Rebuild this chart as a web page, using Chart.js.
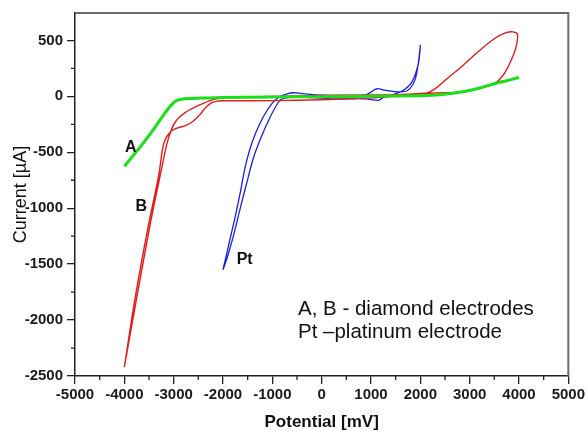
<!DOCTYPE html>
<html>
<head>
<meta charset="utf-8">
<title>Cyclic voltammograms - diamond and platinum electrodes</title>
<script src="https://cdn.jsdelivr.net/npm/chart.js"></script>
<style>
  html, body { margin: 0; padding: 0; background: #fff; }
</style>
</head>
<body>
<canvas id="cv" width="587" height="431"></canvas>
<script>
// curve A - diamond electrode (green)
const aPotential = [-4000, -3850, -3700, -3550, -3400, -3250, -3120, -3020, -2940, -2850, -2700, -2400, -2000, -1000, 0, 1000, 2000, 2400, 2830, 3200, 3500, 3750, 4000];
const aCurrent   = [-625, -545, -465, -380, -290, -195, -115, -65, -38, -26, -20, -15, -10, -6, -3, 0, 6, 14, 38, 75, 113, 140, 168];

// curve B - diamond electrode (red), one full cycle
const bPotential = [-4000, -3740, -3470, -3260, -3140, -3040, -2960, -2880, -2780, -2680, -2550, -2400, -2220, -2000, -1500, -1000, 0, 1000, 1500, 2000, 2160, 2350, 2600, 2830, 3165, 3500, 3740, 3880, 3970, 3940, 3840, 3700, 3500, 3165, 2830, 2500, 2160, 2000, 1500, 1000, 0, -1000, -2000, -2100, -2220, -2350, -2470, -2600, -2760, -2900, -3050, -3200, -3300, -3510, -3780, -4000];
const bCurrent   = [-2420, -1780, -1130, -680, -430, -290, -225, -185, -150, -122, -92, -62, -32, -14, -5, 0, 8, 12, 15, 25, 34, 85, 180, 262, 396, 515, 569, 576, 555, 440, 321, 202, 113, 68, 40, 32, 28, 22, 2, -14, -30, -38, -40, -42, -55, -100, -165, -220, -262, -280, -310, -420, -700, -1150, -1800, -2420];

// Pt - platinum electrode (blue), one full cycle
const ptPotential = [-2000, -1880, -1760, -1650, -1560, -1460, -1340, -1180, -1000, -870, -700, -580, -400, 0, 500, 880, 1000, 1120, 1280, 1550, 1750, 1890, 1960, 2000, 1960, 1830, 1640, 1400, 1260, 1150, 900, 200, -460, -780, -880, -1060, -1240, -1390, -1510, -1650, -1790, -1900, -2000];
const ptCurrent   = [-1550, -1320, -1090, -860, -650, -480, -330, -180, -60, -10, 22, 32, 25, 10, 8, 10, 38, 68, 55, 40, 55, 145, 300, 455, 290, 130, 50, 10, -8, -36, -22, -22, -6, -18, -55, -200, -380, -560, -760, -1000, -1250, -1420, -1550];

// axes
const xTicks = [-5000, -4000, -3000, -2000, -1000, 0, 1000, 2000, 3000, 4000, 5000];
const yTicks = [-2500, -2000, -1500, -1000, -500, 0, 500];

// text labels on the plot
const curveLabels = [
  { text: 'A',  x: -3870, y: -455 },
  { text: 'B',  x: -3655, y: -988 },
  { text: 'Pt', x: -1560, y: -1458 }
];
const noteLines = ['A, B - diamond electrodes', 'Pt \u2013platinum electrode'];

function pts(xs, ys) {
  return xs.map((x, i) => ({ x: x, y: ys[i] }));
}

const fontFamily = '"Liberation Sans", Arial, sans-serif';

// minor ticks, frame, and text annotations
const decorations = {
  id: 'decorations',
  afterDraw(chart) {
    const ctx = chart.ctx;
    const xs = chart.scales.x, ys = chart.scales.y;
    const area = chart.chartArea;
    ctx.save();

    // top and right frame
    ctx.strokeStyle = '#6e6e6e';
    ctx.lineWidth = 2;
    ctx.beginPath();
    ctx.moveTo(area.left, area.top);
    ctx.lineTo(area.right, area.top);
    ctx.lineTo(area.right, area.bottom);
    ctx.stroke();

    // minor ticks
    ctx.strokeStyle = '#222';
    ctx.lineWidth = 1.3;
    ctx.beginPath();
    for (let i = 0; i < xTicks.length - 1; i++) {
      const px = xs.getPixelForValue((xTicks[i] + xTicks[i + 1]) / 2);
      ctx.moveTo(px, area.bottom);
      ctx.lineTo(px, area.bottom + 4);
    }
    for (let i = 0; i < yTicks.length; i++) {
      const v = yTicks[i] + 250;
      if (v > ys.max) continue;
      const py = ys.getPixelForValue(v);
      ctx.moveTo(area.left, py);
      ctx.lineTo(area.left - 4, py);
    }
    ctx.stroke();

    // curve labels
    ctx.fillStyle = '#111';
    ctx.font = 'bold 16px ' + fontFamily;
    ctx.textAlign = 'center';
    ctx.textBaseline = 'middle';
    curveLabels.forEach(l => {
      ctx.fillText(l.text, xs.getPixelForValue(l.x), ys.getPixelForValue(l.y));
    });

    // note
    ctx.font = '20.5px ' + fontFamily;
    ctx.textAlign = 'left';
    ctx.textBaseline = 'alphabetic';
    ctx.fillText(noteLines[0], 298, 315);
    ctx.fillText(noteLines[1], 298, 338);

    ctx.restore();
  }
};

const tickFont = { family: fontFamily, size: 15, weight: 'bold' };

new Chart(document.getElementById('cv'), {
  type: 'scatter',
  data: {
    datasets: [
      { label: 'A', data: pts(aPotential, aCurrent), borderColor: '#19e019', borderWidth: 3, showLine: true, pointRadius: 0, tension: 0.3 },
      { label: 'B', data: pts(bPotential, bCurrent), borderColor: '#e61c1c', borderWidth: 1.4, showLine: true, pointRadius: 0, tension: 0.3 },
      { label: 'Pt', data: pts(ptPotential, ptCurrent), borderColor: '#1c1ce6', borderWidth: 1.3, showLine: true, pointRadius: 0, tension: 0.3 }
    ]
  },
  options: {
    responsive: false,
    animation: false,
    devicePixelRatio: 1,
    layout: { padding: { left: 0, top: 13, right: 16, bottom: 0 } },
    plugins: { legend: { display: false }, tooltip: { enabled: false } },
    scales: {
      x: {
        type: 'linear',
        min: -5000, max: 5000,
        afterFit(scale) { scale.height = 55; },
        afterBuildTicks(scale) { scale.ticks = xTicks.map(v => ({ value: v })); },
        grid: { drawOnChartArea: false, drawTicks: true, tickLength: 8, color: '#222', lineWidth: 1.3 },
        border: { display: true, color: '#222', width: 1.5 },
        ticks: { maxRotation: 0, padding: 2, color: '#1a1a1a', font: tickFont, callback: v => String(v) },
        title: { display: true, text: 'Potential [mV]', color: '#111', padding: { top: 0, bottom: 0 }, font: { family: fontFamily, size: 17, weight: 'bold', lineHeight: 1 } }
      },
      y: {
        type: 'linear',
        min: -2500, max: 745,
        afterFit(scale) { scale.width = 75; },
        afterBuildTicks(scale) { scale.ticks = yTicks.map(v => ({ value: v })); },
        grid: { drawOnChartArea: false, drawTicks: true, tickLength: 8, color: '#222', lineWidth: 1.3 },
        border: { display: true, color: '#222', width: 1.5 },
        ticks: { padding: 4, color: '#1a1a1a', font: tickFont, callback: v => String(v) },
        title: { display: true, text: 'Current [\u00b5A]', color: '#111', padding: { top: 12, bottom: 0 }, font: { family: fontFamily, size: 18, lineHeight: 1 } }
      }
    }
  },
  plugins: [decorations]
});
</script>
</body>
</html>
